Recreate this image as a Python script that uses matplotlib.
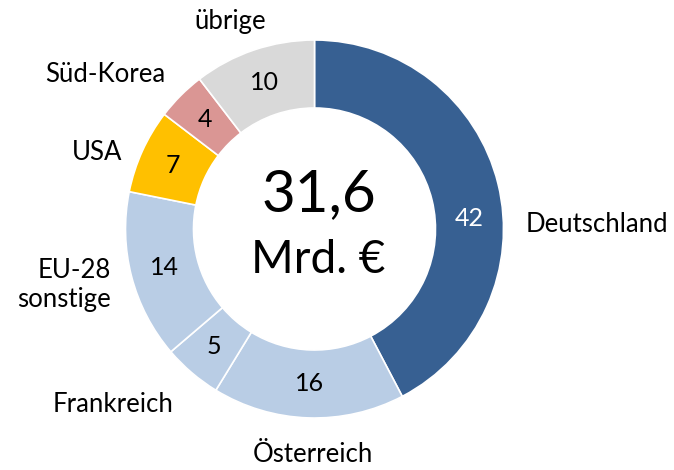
import numpy as np
import matplotlib
matplotlib.use("Agg")
import matplotlib.pyplot as plt

plt.rcParams['font.family'] = ['Lato', 'DejaVu Sans']

# shares in percent, clockwise from the top
countries = ['Deutschland', 'Österreich', 'Frankreich', 'EU-28\nsonstige', 'USA', 'Süd-Korea', 'übrige']
shares = [42.25, 16.4, 5.0, 14.4, 7.2, 4.2, 10.4]
value_labels = ['42', '16', '5', '14', '7', '4', '10']
colors = ['#376092', '#B9CDE5', '#B9CDE5', '#B9CDE5', '#FFC000', '#DA9694', '#D9D9D9']

W, H = 674, 470
fig = plt.figure(figsize=(W / 100, H / 100), dpi=100)
ax = fig.add_axes([0, 0, 1, 1])

cx, cy = 314.5, H - 229
R = 189
ring = 68

wedges, texts = ax.pie(shares, colors=colors, startangle=90, counterclock=False,
                       center=(cx, cy), radius=R, frame=True,
                       wedgeprops=dict(width=ring, edgecolor='white', linewidth=1.2))
ax.set_xlim(0, W)
ax.set_ylim(0, H)
ax.set_aspect('equal')
ax.axis('off')

# value labels in the middle of the ring
rmid = R - ring / 2
for i, w in enumerate(wedges):
    ang = np.deg2rad((w.theta1 + w.theta2) / 2)
    if i == 0:
        ang = np.deg2rad(4)
    ax.text(cx + rmid * np.cos(ang), cy + rmid * np.sin(ang), value_labels[i],
            ha='center', va='center', fontsize=18,
            color='white' if i == 0 else 'black')

# category labels outside
label_pos = [(526, 225, 'left'), (313, 455, 'center'), (113, 405, 'center'),
             (111, 285, 'right'), (97, 152, 'center'), (105, 75, 'center'), (230, 22, 'center')]
for name, (x, y, ha) in zip(countries, label_pos):
    ax.text(x, H - y, name, ha=ha, va='center', fontsize=18.5, linespacing=1.25)

ax.text(cx + 4, H - 195, '31,6', ha='center', va='center', fontsize=42)
ax.text(cx + 4, H - 260, 'Mrd. €', ha='center', va='center', fontsize=33)

fig.savefig('out.png', dpi=100)
